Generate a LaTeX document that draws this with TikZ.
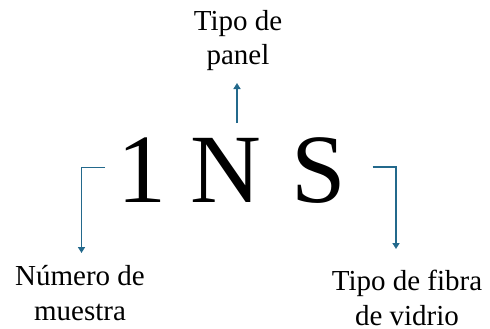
\documentclass[tikz,border=0pt]{standalone}
\usepackage{fontspec}
\setmainfont{Liberation Serif}
\usetikzlibrary{arrows.meta}
\definecolor{conn}{RGB}{35,105,140}
\tikzset{
  lbl/.style={font=\fontsize{29}{35}\selectfont, align=center, inner sep=0pt, anchor=base},
  big/.style={font=\fontsize{98}{110}\selectfont, inner sep=0pt, anchor=base},
  conline/.style={draw=conn, line width=1.5pt, -{Triangle[length=6pt,width=7pt]}}
}
\begin{document}
\begin{tikzpicture}[x=1pt,y=-1pt]
\useasboundingbox (0,0) rectangle (490,329);
\node[big] (one) at (141.5,202) {1};
\node[big] (n) at (225.5,202) {N};
\node[big] (s) at (318.5,202) {S};
\node[lbl] (panel) at (238,65) {Tipo de\\panel};
\node[lbl] (numero) at (80,320.5) {Número de\\muestra};
\node[lbl] (fibra) at (407,325) {Tipo de fibra\\de vidrio};
\coordinate (lstart) at (105,167.5);
\coordinate (lend) at (81.5,253);
\coordinate (rstart) at (372.5,167);
\coordinate (rend) at (396,249);
\coordinate (tstart) at (237,123);
\coordinate (tend) at (237,83);
\draw[conline] (lstart) -| (lend);
\draw[conline] (rstart) -| (rend);
\draw[conline] (tstart) -- (tend);
\end{tikzpicture}
\end{document}
